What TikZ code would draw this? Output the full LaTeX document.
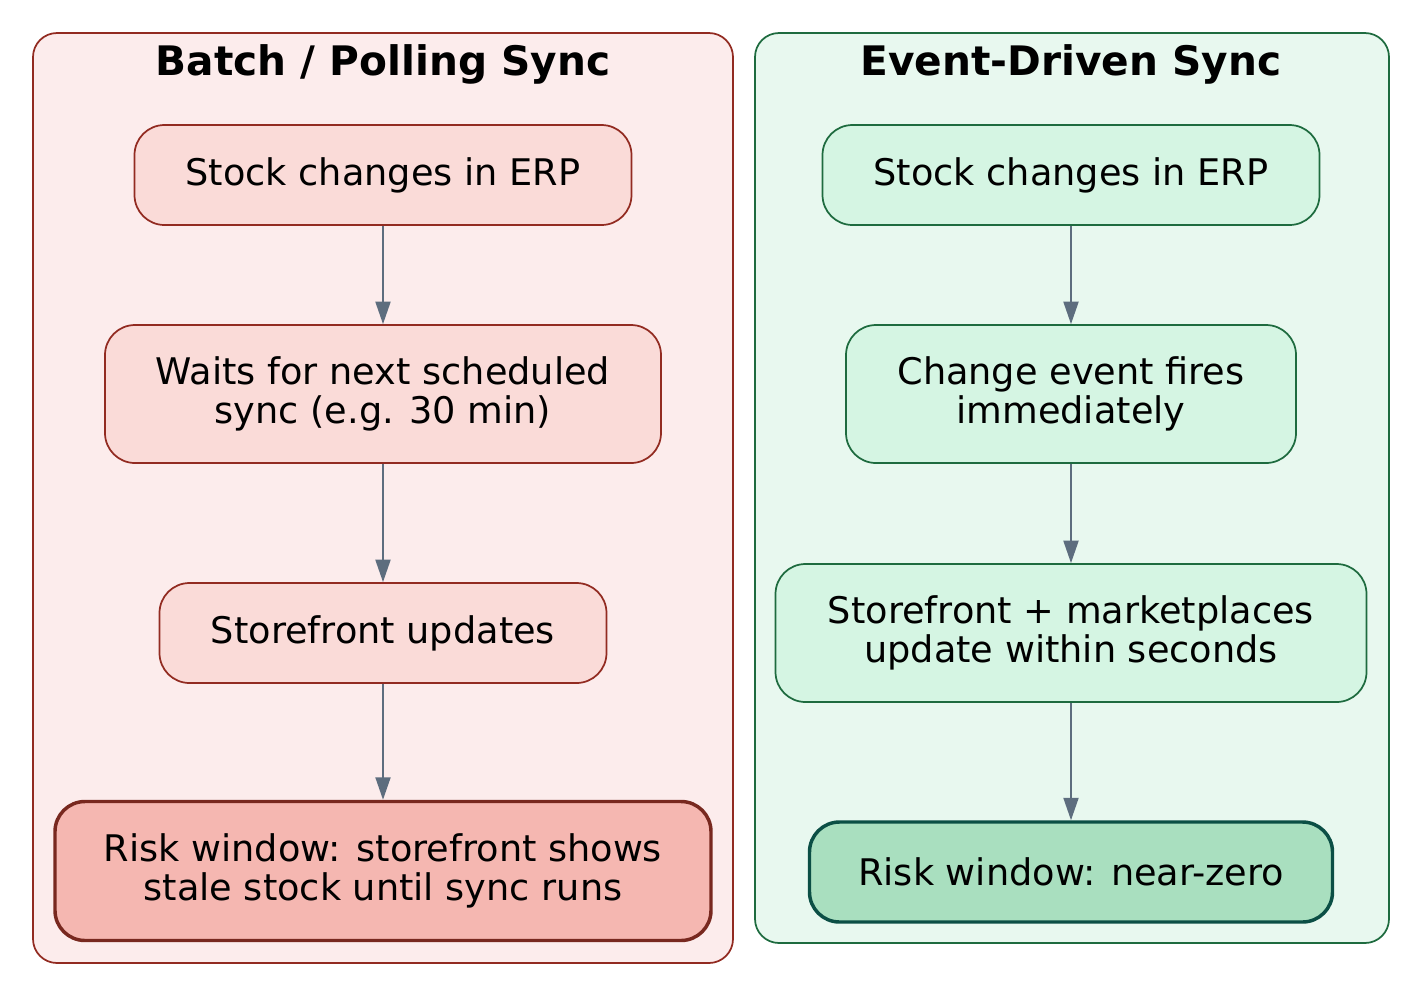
\documentclass[tikz,border=0pt]{standalone}
\usepackage{fontspec}
\setmainfont{DejaVu Sans}
\usetikzlibrary{arrows.meta}
\definecolor{lfill}{HTML}{FCECEC}\definecolor{lline}{HTML}{922B21}
\definecolor{rfill}{HTML}{E8F8EF}\definecolor{rline}{HTML}{1E6B3F}
\definecolor{lnode}{HTML}{FADBD8}\definecolor{rnode}{HTML}{D5F5E3}
\definecolor{lrisk}{HTML}{F5B7B1}\definecolor{lriskl}{HTML}{78281F}
\definecolor{rrisk}{HTML}{A9DFBF}\definecolor{rriskl}{HTML}{0B4F45}
\definecolor{arr}{HTML}{5D6D7E}
\begin{document}
\begin{tikzpicture}[x=0.75pt,y=-0.75pt,
  box/.style={draw, line width=1.3pt, rounded corners=22.5pt, align=center, font=\fontsize{27.5}{29.5}\selectfont, inner sep=0pt},
  lb/.style={box, fill=lnode, draw=lline},
  rb/.style={box, fill=rnode, draw=rline},
  lr/.style={box, fill=lrisk, draw=lriskl, line width=2.6pt},
  rr/.style={box, fill=rrisk, draw=rriskl, line width=2.6pt},
  cl/.style={line width=1.3pt, rounded corners=18pt},
  title/.style={font=\bfseries\fontsize{30.5}{34}\selectfont},
  ar/.style={draw=arr, line width=1.5pt, -{Triangle[length=22.5pt*0.75,width=15pt*0.75]}}]
\useasboundingbox (0,0) rectangle (1422,997);
\draw[cl, fill=lfill, draw=lline] (33,33) rectangle (733,963);
\draw[cl, fill=rfill, draw=rline] (755,33) rectangle (1389,943);
\node[title] (tl) at (383,64) {Batch / Polling Sync};
\node[title] (tr) at (1071,64) {Event-Driven Sync};
\node[lb, minimum width=497*0.75pt, minimum height=100*0.75pt] (la) at (383,175) {Stock changes in ERP};
\node[lb, minimum width=556*0.75pt, minimum height=138*0.75pt] (lb2) at (383,394) {Waits for next scheduled\\sync (e.g. 30 min)};
\node[lb, minimum width=447*0.75pt, minimum height=100*0.75pt] (lc) at (383,633) {Storefront updates};
\node[lr, minimum width=656*0.75pt, minimum height=139*0.75pt] (ld) at (383,871) {Risk window: storefront shows\\stale stock until sync runs};
\node[rb, minimum width=497*0.75pt, minimum height=100*0.75pt] (ra) at (1071,175) {Stock changes in ERP};
\node[rb, minimum width=450*0.75pt, minimum height=138*0.75pt] (rb2) at (1071,394) {Change event fires\\immediately};
\node[rb, minimum width=591*0.75pt, minimum height=138*0.75pt] (rc) at (1071,633) {Storefront + marketplaces\\update within seconds};
\node[rr, minimum width=523*0.75pt, minimum height=100*0.75pt] (rd) at (1071,872) {Risk window: near-zero};
\draw[ar] (la) -- (lb2);
\draw[ar] (lb2) -- (lc);
\draw[ar] (lc) -- (ld);
\draw[ar] (ra) -- (rb2);
\draw[ar] (rb2) -- (rc);
\draw[ar] (rc) -- (rd);
\end{tikzpicture}
\end{document}
